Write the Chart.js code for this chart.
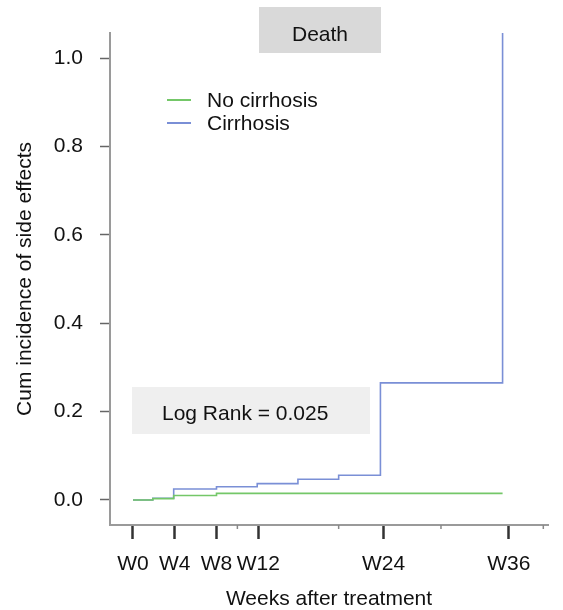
<!DOCTYPE html>
<html>
<head>
<meta charset="utf-8">
<script src="https://cdn.jsdelivr.net/npm/chart.js@4"></script>
<style>
html,body{margin:0;padding:0;background:#fff;overflow:hidden}
#wrap{width:563px;height:610px;position:relative}
</style>
</head>
<body>
<div id="wrap"><canvas id="chart"></canvas></div>
<script>
// data
const seriesNames = ['No cirrhosis', 'Cirrhosis'];
const noCirrhosisWeeks = [0, 1.9, 3.9, 8, 35.4];
const noCirrhosisValues = [0, 0.003, 0.01, 0.015, 0.015];
const cirrhosisWeeks = [0, 1.9, 3.9, 8, 11.9, 15.8, 19.7, 23.7, 35.4];
const cirrhosisValues = [0, 0.004, 0.025, 0.03, 0.037, 0.047, 0.056, 0.265, 1.06];
const weekTicks = [0, 4, 8, 12, 24, 36];
const minorWeekTicks = [10, 19.7, 29.5, 39.3];
const yTicks = [0, 0.2, 0.4, 0.6, 0.8, 1.0];
const panelTitle = 'Death';
const statText = 'Log Rank = 0.025';

const FONT = '"Liberation Sans", Arial, Helvetica, sans-serif';
Chart.defaults.font.family = FONT;
Chart.defaults.font.size = 21;
Chart.defaults.color = '#111';

const colors = ['#74c768', '#7a8fd6'];

function toPoints(xs, ys) {
  return xs.map((x, i) => ({x: x, y: ys[i]}));
}

// boxes, legend and minor ticks
const extras = {
  id: 'extras',
  afterDraw(chart) {
    const ctx = chart.ctx;
    const xs = chart.scales.x;
    ctx.save();
    // minor x ticks
    ctx.strokeStyle = '#888';
    ctx.lineWidth = 1.5;
    minorWeekTicks.forEach(w => {
      const px = xs.getPixelForValue(w);
      ctx.beginPath();
      ctx.moveTo(px, xs.top);
      ctx.lineTo(px, xs.top + 4);
      ctx.stroke();
    });
    // title box
    ctx.fillStyle = '#d9d9d9';
    ctx.fillRect(259, 7, 122, 46);
    ctx.fillStyle = '#111';
    ctx.font = '21px ' + FONT;
    ctx.textAlign = 'center';
    ctx.textBaseline = 'alphabetic';
    ctx.fillText(panelTitle, 320, 41);
    // log rank box
    ctx.fillStyle = '#efefef';
    ctx.fillRect(132, 387, 238, 47);
    ctx.fillStyle = '#111';
    ctx.textAlign = 'left';
    ctx.fillText(statText, 162, 420);
    // legend
    chart.data.datasets.forEach((ds, i) => {
      const y = 100 + i * 23;
      ctx.strokeStyle = ds.borderColor;
      ctx.lineWidth = 2;
      ctx.beginPath();
      ctx.moveTo(167, y);
      ctx.lineTo(191, y);
      ctx.stroke();
      ctx.fillStyle = '#111';
      ctx.fillText(ds.label, 207, y + 7);
    });
    ctx.restore();
  }
};

new Chart(document.getElementById('chart'), {
  type: 'line',
  data: {
    datasets: [
      {label: seriesNames[0], data: toPoints(noCirrhosisWeeks, noCirrhosisValues),
       borderColor: colors[0], borderWidth: 1.6, stepped: 'before', pointRadius: 0, fill: false},
      {label: seriesNames[1], data: toPoints(cirrhosisWeeks, cirrhosisValues),
       borderColor: colors[1], borderWidth: 1.6, stepped: 'before', pointRadius: 0, fill: false}
    ]
  },
  options: {
    responsive: true,
    maintainAspectRatio: false,
    animation: false,
    layout: {padding: {top: 33, right: 15, left: 0, bottom: 0}},
    plugins: {legend: {display: false}, tooltip: {enabled: false}},
    scales: {
      x: {
        type: 'linear',
        min: -2.2,
        max: 39.75,
        afterFit: s => { s.height = 85; },
        afterBuildTicks: s => { s.ticks = weekTicks.map(v => ({value: v})); },
        border: {color: '#9a9a9a', width: 2},
        grid: {drawOnChartArea: false, tickLength: 14, tickColor: '#333', tickWidth: 2.5},
        ticks: {autoSkip: false, maxRotation: 0, padding: 13, color: '#111',
                callback: v => 'W' + v},
        title: {display: true, text: 'Weeks after treatment', color: '#111',
                padding: {top: 0, bottom: -2}}
      },
      y: {
        min: -0.0566,
        max: 1.0566,
        afterFit: s => { s.width = 110; },
        afterBuildTicks: s => { s.ticks = yTicks.map(v => ({value: v})); },
        border: {color: '#9a9a9a', width: 2},
        grid: {drawOnChartArea: false, tickLength: 10, tickColor: '#666', tickWidth: 1.5},
        ticks: {padding: 17, color: '#111', callback: v => v.toFixed(1)},
        title: {display: true, text: 'Cum incidence of side effects', color: '#111',
                padding: {top: 13, bottom: 0}}
      }
    }
  },
  plugins: [extras]
});
</script>
</body>
</html>
